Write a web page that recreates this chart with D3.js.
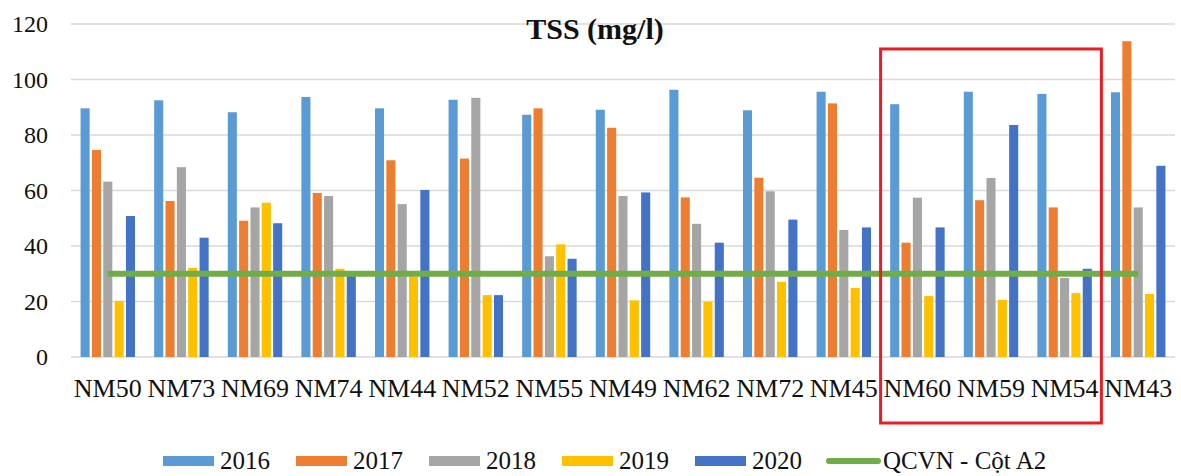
<!DOCTYPE html>
<html>
<head>
<meta charset="utf-8">
<script src="https://cdn.jsdelivr.net/npm/d3@7"></script>
<style>
  body { margin: 0; background: #fff; }
</style>
</head>
<body>
<script>
const stations = ['NM50', 'NM73', 'NM69', 'NM74', 'NM44', 'NM52', 'NM55', 'NM49', 'NM62', 'NM72', 'NM45', 'NM60', 'NM59', 'NM54', 'NM43'];
const years = ['2016', '2017', '2018', '2019', '2020'];

const tss2016 = [89.6, 92.5, 88.2, 93.7, 89.6, 92.7, 87.3, 89.1, 96.3, 88.9, 95.6, 91.1, 95.6, 94.8, 95.4];
const tss2017 = [74.6, 56.2, 49.1, 59.1, 70.9, 71.5, 89.6, 82.6, 57.5, 64.6, 91.4, 41.2, 56.5, 53.9, 113.8];
const tss2018 = [63.2, 68.4, 53.9, 58.0, 55.1, 93.4, 36.3, 58.0, 48.0, 59.7, 45.8, 57.4, 64.5, 28.5, 53.9];
const tss2019 = [20.2, 32.1, 55.6, 31.8, 29.0, 22.3, 40.6, 20.4, 19.9, 27.1, 24.9, 22.0, 20.6, 23.0, 22.7];
const tss2020 = [50.8, 43.0, 48.2, 29.5, 60.2, 22.3, 35.4, 59.3, 41.2, 49.5, 46.7, 46.7, 83.6, 31.8, 68.9];
const qcvnA2 = [30, 30, 30, 30, 30, 30, 30, 30, 30, 30, 30, 30, 30, 30, 30];

const yTicks = [0, 20, 40, 60, 80, 100, 120];
const highlight = ['NM60', 'NM54'];

const series = [tss2016, tss2017, tss2018, tss2019, tss2020];
const colors = ['#5B9BD5', '#ED7D31', '#A5A5A5', '#FFC000', '#4472C4'];
const lineColor = '#70AD47';
const serif = 'Liberation Serif';

const width = 1181;
const height = 476;
const margin = { left: 71, right: 6, top: 24, bottom: 119 };

const svg = d3.select('body')
  .append('svg')
  .attr('width', width)
  .attr('height', height)
  .attr('font-family', serif);

const x0 = d3.scaleBand()
  .domain(stations)
  .range([margin.left, width - margin.right])
  .paddingInner(0.26)
  .paddingOuter(0.13);

const x1 = d3.scaleBand()
  .domain(years)
  .range([0, x0.bandwidth()])
  .paddingInner(0.2);

const y = d3.scaleLinear()
  .domain([0, 120])
  .range([height - margin.bottom, margin.top]);

// gridlines
svg.append('g')
  .selectAll('line')
  .data(yTicks)
  .join('line')
  .attr('x1', margin.left)
  .attr('x2', width - margin.right)
  .attr('y1', d => y(d))
  .attr('y2', d => y(d))
  .attr('stroke', '#d9d9d9')
  .attr('stroke-width', 1.5);

// y labels
svg.append('g')
  .selectAll('text')
  .data(yTicks)
  .join('text')
  .attr('x', 48)
  .attr('y', d => y(d) + 8)
  .attr('text-anchor', 'end')
  .attr('font-family', serif)
  .attr('font-size', 24)
  .attr('fill', '#111')
  .text(d => d);

// bars
const groups = svg.append('g')
  .selectAll('g')
  .data(stations)
  .join('g')
  .attr('transform', d => `translate(${x0(d)},0)`);

groups.selectAll('rect')
  .data((d, i) => years.map((yr, k) => ({ yr, v: series[k][i], c: colors[k] })))
  .join('rect')
  .attr('x', d => x1(d.yr))
  .attr('width', x1.bandwidth())
  .attr('y', d => y(d.v))
  .attr('height', d => y(0) - y(d.v))
  .attr('fill', d => d.c);

// QCVN line
const line = d3.line()
  .x((d, i) => x0(stations[i]) + x0.bandwidth() / 2)
  .y(d => y(d));

svg.append('path')
  .datum(qcvnA2)
  .attr('d', line)
  .attr('fill', 'none')
  .attr('stroke', lineColor)
  .attr('stroke-width', 6);

// x labels
svg.append('g')
  .selectAll('text')
  .data(stations)
  .join('text')
  .attr('x', d => x0(d) + x0.bandwidth() / 2)
  .attr('y', 397)
  .attr('text-anchor', 'middle')
  .attr('font-family', serif)
  .attr('font-size', 26)
  .attr('fill', '#111')
  .text(d => d);

// title
svg.append('text')
  .attr('x', 595)
  .attr('y', 39)
  .attr('text-anchor', 'middle')
  .attr('font-family', serif)
  .attr('font-size', 30)
  .attr('font-weight', 'bold')
  .attr('fill', '#111')
  .text('TSS (mg/l)');

// highlight box
const pad = x0.step() * x0.paddingOuter();
const hx1 = x0(highlight[0]) - pad;
const hx2 = x0(highlight[1]) + x0.bandwidth() + pad;
svg.append('rect')
  .attr('x', hx1)
  .attr('y', y(111))
  .attr('width', hx2 - hx1)
  .attr('height', 423 - y(111))
  .attr('fill', 'none')
  .attr('stroke', '#ED1C24')
  .attr('stroke-width', 3);

// legend
const legend = svg.append('g');
const legendItems = legend.selectAll('g')
  .data(years)
  .join('g')
  .attr('transform', (d, i) => `translate(${163 + i * 133},461)`);

legendItems.append('rect')
  .attr('x', 0)
  .attr('y', -5)
  .attr('width', 51)
  .attr('height', 10)
  .attr('fill', (d, i) => colors[i]);

legendItems.append('text')
  .attr('x', 57)
  .attr('y', 8)
  .attr('font-family', serif)
  .attr('font-size', 25)
  .attr('fill', '#111')
  .text(d => d);

const lineLegend = legend.append('g')
  .attr('transform', 'translate(829,461)');

lineLegend.append('line')
  .attr('x1', 0)
  .attr('x2', 49)
  .attr('stroke', lineColor)
  .attr('stroke-width', 6)
  .attr('stroke-linecap', 'round');

lineLegend.append('text')
  .attr('x', 54)
  .attr('y', 8)
  .attr('font-family', serif)
  .attr('font-size', 25)
  .attr('fill', '#111')
  .text('QCVN - Cột A2');
</script>
</body>
</html>
